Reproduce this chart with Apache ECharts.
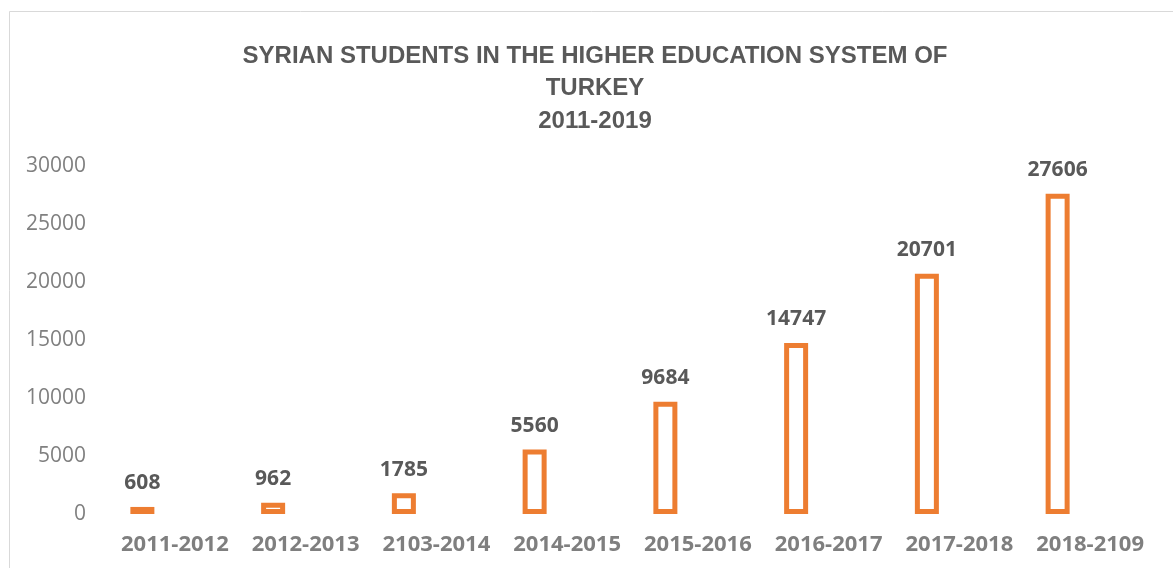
<!DOCTYPE html>
<html>
<head>
<meta charset="utf-8">
<script src="https://cdn.jsdelivr.net/npm/echarts@6/dist/echarts.min.js"></script>
<style>
html,body{margin:0;padding:0;background:#fff;}
#chart{width:1173px;height:568px;}
</style>
</head>
<body>
<div id="chart"></div>
<script>
const titleLines = ["SYRIAN STUDENTS IN THE HIGHER EDUCATION SYSTEM OF", "TURKEY", "2011-2019"];
const categories = ["2011-2012", "2012-2013", "2103-2014", "2014-2015", "2015-2016", "2016-2017", "2017-2018", "2018-2109"];
const students = [608, 962, 1785, 5560, 9684, 14747, 20701, 27606];
const yTicks = { min: 0, max: 30000, interval: 5000 };

const FONT = "'Open Sans', sans-serif";

function draw() {
  const chart = echarts.init(document.getElementById('chart'));
  chart.setOption({
    animation: false,
    backgroundColor: '#ffffff',
    graphic: [{
      type: 'rect',
      shape: { x: 9.5, y: 11.5, width: 1200, height: 600 },
      style: { fill: 'none', stroke: '#d9d9d9', lineWidth: 1 },
      silent: true
    }],
    title: {
      text: titleLines.join('\n'),
      left: 590,
      textAlign: 'center',
      top: 35,
      textStyle: {
        fontFamily: "'Liberation Sans', Arial, sans-serif",
        fontWeight: 'bold',
        fontSize: 24,
        lineHeight: 32.5,
        color: '#595959'
      }
    },
    grid: { left: 77, right: 50, top: 166, bottom: 54, containLabel: false },
    xAxis: {
      type: 'category',
      data: categories,
      axisLine: { show: false },
      axisTick: { show: false },
      axisLabel: {
        interval: 0,
        margin: 20,
        padding: [0, 0, 0, 65],
        fontFamily: FONT,
        fontWeight: 'bold',
        fontSize: 22,
        color: '#7f7f7f'
      }
    },
    yAxis: {
      type: 'value',
      min: yTicks.min,
      max: yTicks.max,
      interval: yTicks.interval,
      splitLine: { show: false },
      axisLine: { show: false },
      axisTick: { show: false },
      axisLabel: {
        margin: -9,
        formatter: function (v) { return String(v); },
        fontFamily: FONT,
        fontSize: 21,
        color: '#808080'
      }
    },
    series: [{
      type: 'bar',
      data: students,
      barWidth: 24,
      itemStyle: {
        color: '#ffffff',
        borderColor: '#ED7D31',
        borderWidth: 5
      },
      label: {
        show: true,
        position: 'top',
        distance: 13,
        fontFamily: FONT,
        fontWeight: 'bold',
        fontSize: 21,
        color: '#595959'
      }
    }]
  });
}

let done = false;
function go() { if (!done) { done = true; draw(); } }
if (document.fonts && document.fonts.load) {
  Promise.all([
    document.fonts.load("20px 'Open Sans'"),
    document.fonts.load("bold 20px 'Open Sans'")
  ]).then(go, go);
  setTimeout(go, 1500);
} else {
  go();
}
</script>
</body>
</html>
